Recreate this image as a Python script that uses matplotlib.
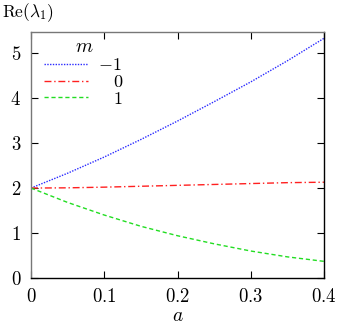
import matplotlib
matplotlib.use("Agg")
import matplotlib.pyplot as plt

plt.rcParams['mathtext.fontset'] = 'cm'
plt.rcParams['font.family'] = 'serif'
plt.rcParams['font.serif'] = ['cmr10', 'DejaVu Serif']
plt.rcParams['axes.formatter.use_mathtext'] = True

a = [0.0, 0.05, 0.1, 0.15, 0.2, 0.25, 0.3, 0.35, 0.4]
re_m_neg1 = [2.0, 2.33, 2.69, 3.08, 3.49, 3.92, 4.36, 4.83, 5.33]
re_m_0 = [2.0, 2.005, 2.02, 2.04, 2.06, 2.08, 2.10, 2.12, 2.13]
re_m_1 = [2.0, 1.68, 1.40, 1.15, 0.94, 0.76, 0.60, 0.47, 0.37]
m_labels = [r'$-1$', r'$\ \ \ 0$', r'$\ \ \ 1$']

fig = plt.figure(figsize=(3.41, 3.26), dpi=100)
ax = fig.add_axes([31/341, 1-278/326, 293/341, 246/326])

ax.plot(a, re_m_neg1, color='#2a2aff', ls=(0, (1, 1)), lw=1.0, label=m_labels[0])
ax.plot(a, re_m_0, color='#ff2020', ls=(0, (5, 2, 1, 2)), lw=1.0, label=m_labels[1])
ax.plot(a, re_m_1, color='#22dd22', ls=(0, (3, 2)), lw=1.0, label=m_labels[2])

ax.set_xlim(0, 0.4)
ax.set_ylim(0, 5.47)
ax.set_xticks([0, 0.1, 0.2, 0.3, 0.4])
ax.set_xticklabels(['$0$', '$0.1$', '$0.2$', '$0.3$', '$0.4$'])
ax.set_yticks([0, 1, 2, 3, 4, 5])
ax.set_yticklabels(['$%d$' % v for v in range(6)])
ax.tick_params(direction='in', top=True, right=True, length=5, labelsize=13.5)
ax.tick_params(axis='x', pad=7)
ax.tick_params(axis='y', pad=7)
for s in ['left', 'top']:
    ax.spines[s].set_color('#777777')
for s in ax.spines.values():
    s.set_linewidth(1.0)

ax.set_xlabel('$a$', fontsize=14, labelpad=1)
fig.text(0.005, 0.962, r'$\mathrm{Re}(\lambda_1)$', fontsize=12.5, va='center', ha='left')

leg = ax.legend(title='$m$', loc='upper left', frameon=False, fontsize=13,
                title_fontsize=14, handlelength=2.4, handletextpad=0.6,
                labelspacing=0.05, borderaxespad=0.0, borderpad=0.0,
                bbox_to_anchor=(0.045, 0.975))

fig.savefig('out.png', dpi=100)
